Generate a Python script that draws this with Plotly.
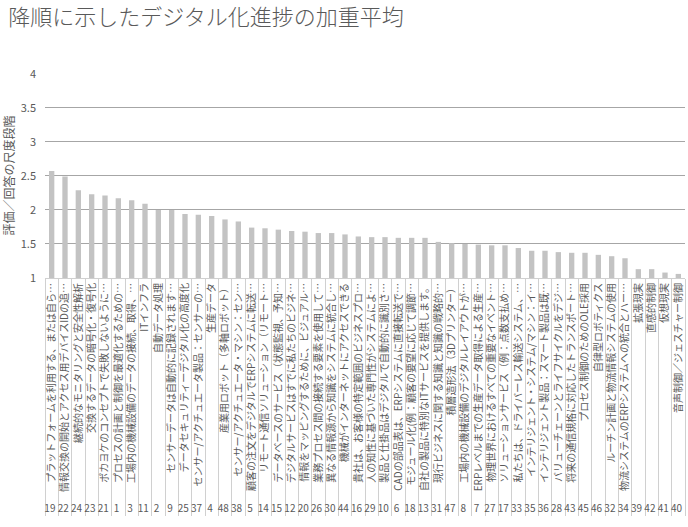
import plotly.graph_objects as go

# 質問番号（下段）
numbers = ["19", "22", "24", "23", "21", "1", "3", "11", "2", "9", "25", "37",
           "4", "48", "38", "5", "14", "15", "12", "20", "26", "30", "44", "16",
           "29", "10", "6", "18", "13", "31", "47", "8", "7", "27", "17", "33",
           "35", "36", "28", "43", "45", "46", "32", "34", "39", "42", "41", "40"]

# 項目名（上段、Excelで省略表示されたもの）
labels = [
    "プラットフォームを利用する、または自ら…",
    "情報交換の開始とアクセス用デバイスIDの追…",
    "継続的なモニタリングと安全性解析",
    "交換するデータの暗号化・復号化",
    "ポカヨケのコンセプトで失敗しないように…",
    "プロセスの計画と制御を最適化するための…",
    "工場内の機械設備のデータの接続、取得、…",
    "ITインフラ",
    "自動データ処理",
    "センサーデータは自動的に記録されます…",
    "データセキュリティーデジタル化の高度化",
    "センサー/アクチュエータ製品：センサーの…",
    "生産データ",
    "産業用ロボット（多軸ロボット）",
    "センサー/アクチュエータ・マシン：セン…",
    "顧客の注文をデジタルでERPシステムに転送…",
    "リモート通信ソリューション（リモート…",
    "データベースのサービス（状態監視、予知…",
    "デジタルサービスはすでに私たちのビジネ…",
    "情報をマッピングするために、ビジュアル…",
    "業務プロセス間の接続する要素を使用して…",
    "異なる情報源から知識をシステムに統合し…",
    "機械がインターネットにアクセスできる",
    "貴社は、お客様の特定範囲のビジネスプロ…",
    "人の知性に基づいた専門性がシステムによ…",
    "製品と仕掛品はデジタルで自動的に識別さ…",
    "CADの部品表は、ERPシステムに直接転送で…",
    "モジュール化(例：顧客の要望に応じて調節…",
    "自社の製品に特別なITサービスを提供します。",
    "現行ビジネスに関する知識と知識の戦略的…",
    "積層造形法（3Dプリンター）",
    "工場内の機械設備のデジタルレイアウトが…",
    "ERPレベルまでの生産データ取得による生産…",
    "物理世界におけるすべての重要なイベント…",
    "ソリューションサービス（例：点数支払め…",
    "私たちは、ドライバーレス輸送システム、…",
    "インテリジェント・システム/マシン：イ…",
    "インテリジェント製品：スマート製品は既…",
    "バリューチェーンとライフサイクルをデジ…",
    "将来の通信規格に対応したトランスポート…",
    "プロセス制御のためのOLE採用",
    "自律型ロボティクス",
    "ルーチン計画と物流情報システムの使用",
    "物流システムのERPシステムへの統合とハー…",
    "拡張現実",
    "直感的制御",
    "仮想現実",
    "音声制御／ジェスチャー制御",
]

# 加重平均
values = [2.57, 2.49, 2.29, 2.23, 2.21, 2.17, 2.14, 2.09, 2.00, 2.00, 1.94, 1.93,
          1.91, 1.86, 1.83, 1.74, 1.73, 1.71, 1.69, 1.68, 1.66, 1.66, 1.64, 1.61,
          1.60, 1.60, 1.59, 1.59, 1.59, 1.53, 1.51, 1.50, 1.49, 1.48, 1.48, 1.44,
          1.40, 1.40, 1.38, 1.37, 1.37, 1.34, 1.32, 1.29, 1.13, 1.13, 1.08, 1.06]

yticks = [1, 1.5, 2, 2.5, 3, 3.5, 4]

font_jp = "Noto Sans CJK JP"
grey_txt = "#595959"
grid = "#d0d0d0"

fig = go.Figure()
fig.add_trace(go.Bar(
    x=[numbers, labels],
    y=values,
    marker_color="#c3c3c3",
    marker_line_width=0,
))

fig.update_layout(
    width=688,
    height=527,
    title=dict(text="降順に示したデジタル化進捗の加重平均", x=0.012, y=0.967,
               xanchor="left", yanchor="middle",
               font=dict(family=font_jp, size=22, color=grey_txt, weight=300)),
    margin=dict(l=45, r=3, t=73, b=249),
    plot_bgcolor="white",
    paper_bgcolor="white",
    bargap=0.6,
    showlegend=False,
    font=dict(family=font_jp, color=grey_txt),
)
fig.update_xaxes(
    type="multicategory",
    tickangle=-90,
    tickfont=dict(family=font_jp, size=10, color=grey_txt),
    showdividers=True,
    dividercolor=grid,
    dividerwidth=1,
    showline=True,
    linecolor=grid,
    ticks="",
    automargin=False,
)
fig.update_yaxes(
    range=[1, 4.01],   # 4の目盛線が切れないよう少しだけ上に余裕
    tickvals=yticks,
    showgrid=True,
    gridcolor="#a6a6a6",
    gridwidth=1,
    zeroline=False,
    ticklabelstandoff=8,
    tickfont=dict(family=font_jp, size=11, color=grey_txt),
    title=dict(text="評価／回答の尺度段階", font=dict(family=font_jp, size=12, color=grey_txt),
               standoff=8),
)
# ページ既定の余白を消してウィンドウに合わせる
fig.write_html("out.html", config={"displayModeBar": False},
               post_script="document.body.style.margin='0';")
